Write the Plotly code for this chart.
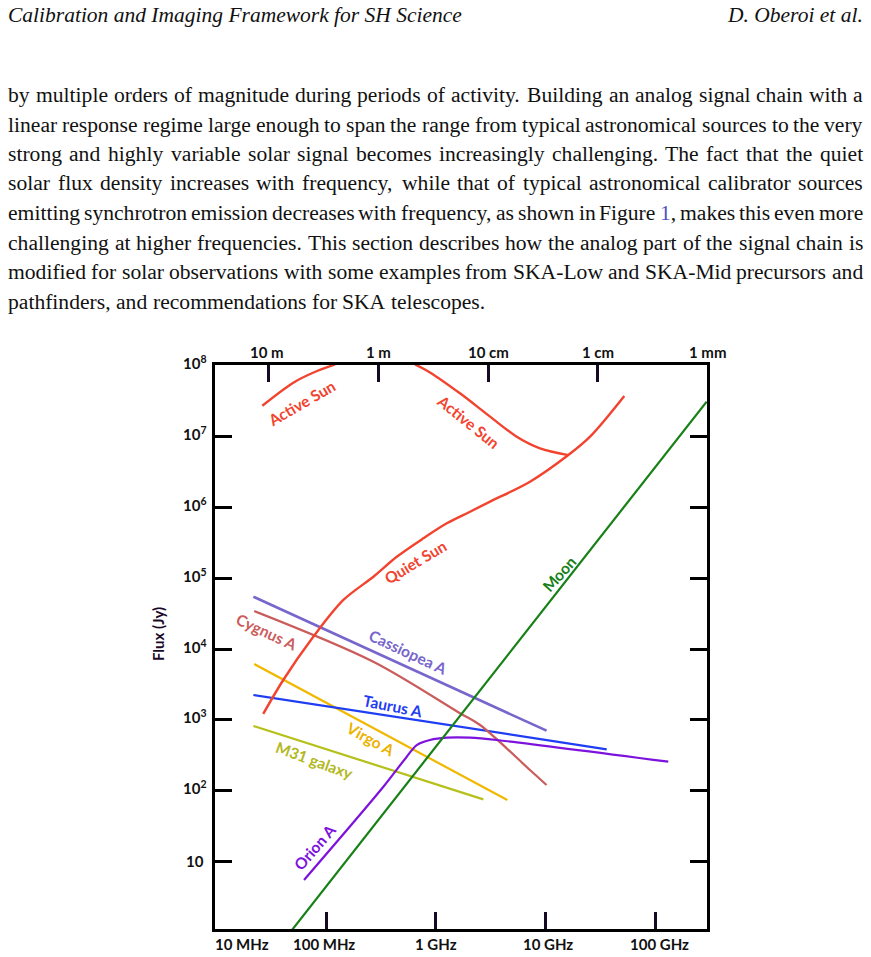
import numpy as np
import plotly.graph_objects as go

# ---------------- data (frequency in Hz, flux density in Jy) ----------------
active_sun_low_freq = [26.3e6, 50.4e6, 79e6, 121e6]
active_sun_low_flux = [2.74e7, 5.8e7, 8.2e7, 1.05e8]

active_sun_high_freq = [647e6, 885e6, 1.66e9, 3.12e9, 5.46e9, 8.9e9, 16.1e9]
active_sun_high_flux = [1.05e8, 8.1e7, 4.1e7, 1.92e7, 1.0e7, 6.85e6, 5.5e6]

quiet_sun_freq = [26.8e6, 40.8e6, 76.6e6, 144e6, 270e6, 441e6, 769e6, 1.26e9,
                  2.05e9, 3.12e9, 7.21e9, 16.1e9, 25.4e9, 52.1e9]
quiet_sun_flux = [1.21e3, 3.65e3, 1.49e4, 4.93e4, 1.05e5, 2.01e5, 3.66e5, 5.97e5,
                  8.71e5, 1.21e6, 2.31e6, 5.5e6, 1.0e7, 3.76e7]

moon_freq = [4.9e7, 2.93e11]
moon_flux = [1.07, 3.13e7]

cas_freq = [21.8e6, 10.2e9]
cas_flux = [5.48e4, 702]

cyg_freq = [22.2e6, 270e6, 1.66e9, 2.53e9, 7.21e9, 10.2e9]
cyg_flux = [3.44e4, 6.62e3, 1.24e3, 844, 195, 120]

tau_freq = [21.8e6, 36.0e9]
tau_flux = [2.24e3, 383]

vir_freq = [22.2e6, 4.48e9]
vir_flux = [6.14e3, 73.5]

m31_freq = [21.8e6, 2.71e9]
m31_flux = [817, 75.2]

ori_freq = [63.1e6, 333e6, 544e6, 670e6, 885e6, 1.26e9, 2.05e9, 3.59e9, 131e9]
ori_flux = [5.45, 113, 301, 440, 518, 558, 558, 518, 256]

# axis ticks
freq_tick_vals = [1e7, 1e8, 1e9, 1e10, 1e11]
freq_tick_text = ["10 MHz", "100 MHz", "1 GHz", "10 GHz", "100 GHz"]
wave_tick_text = ["10 m", "1 m", "10 cm", "1 cm", "1 mm"]
wave_tick_m = [10.0, 1.0, 0.1, 0.01, 0.001]
flux_tick_vals = [10, 1e2, 1e3, 1e4, 1e5, 1e6, 1e7, 1e8]
flux_tick_text = ["10", "10<sup>2</sup>", "10<sup>3</sup>", "10<sup>4</sup>",
                  "10<sup>5</sup>", "10<sup>6</sup>", "10<sup>7</sup>", "10<sup>8</sup>"]

# series labels
label_text = ["Active Sun", "Active Sun", "Quiet Sun", "Moon", "Cygnus A", "Cassiopea A",
              "Taurus A", "Virgo A", "M31 galaxy", "Orion A"]
label_freq = [60e6, 2.0e9, 650e6, 13.3e9, 29e6, 560e6, 410e6, 255e6, 77.8e6, 79.4e6]
label_flux = [3.0e7, 1.63e7, 1.7e5, 1.14e5, 1.72e4, 9.0e3, 1.58e3, 535, 270, 15.8]
label_angle = [-30, 39, -31, -48, 25, 25, 11, 29, 20, -49]

# page text
header_left = "Calibration and Imaging Framework for SH Science"
header_right = "D. Oberoi et al."
body_lines = [
    "by multiple orders of magnitude during periods of activity. Building an analog signal chain with a",
    "linear response regime large enough to span the range from typical astronomical sources to the very",
    "strong and highly variable solar signal becomes increasingly challenging. The fact that the quiet",
    "solar flux density increases with frequency, while that of typical astronomical calibrator sources",
    "emitting synchrotron emission decreases with frequency, as shown in Figure 1, makes this even more",
    "challenging at higher frequencies. This section describes how the analog part of the signal chain is",
    "modified for solar observations with some examples from SKA-Low and SKA-Mid precursors and",
    "pathfinders, and recommendations for SKA telescopes.",
]
figure_ref_word = "1,"

# ---------------- styling ----------------
RED = "#f2432f"
C_MOON = "#178017"
C_CAS = "#7866cc"
C_CYG = "#cb5c5c"
C_TAU = "#1f3df2"
C_VIR = "#f0b800"
C_M31 = "#b6c01a"
C_ORI = "#7d12dd"
label_color = [RED, RED, RED, C_MOON, C_CYG, C_CAS, C_TAU, "#ebb200", "#b2b81e", C_ORI]

W, H = 871, 957
L, R, T, B = 215, 164, 365, 28
PW, PH = W - L - R, H - T - B
XR = [6.989, 11.470]
YR = [0.044, 8.013]


def px_x(px):
    return (px - L) / PW


def px_y(py):
    return (T + PH - py) / PH


fig = go.Figure()


def add_line(f, s, color, width=2.2, shape="linear", xaxis="x"):
    fig.add_trace(go.Scatter(x=f, y=s, mode="lines", xaxis=xaxis,
                             line=dict(color=color, width=width, shape=shape, smoothing=0.9),
                             hoverinfo="skip", showlegend=False))


add_line(m31_freq, m31_flux, C_M31)
add_line(vir_freq, vir_flux, C_VIR)
add_line(tau_freq, tau_flux, C_TAU)
add_line(cyg_freq, cyg_flux, C_CYG, shape="spline")
add_line(cas_freq, cas_flux, C_CAS, width=2.6)
add_line(ori_freq, ori_flux, C_ORI, shape="spline")
add_line(moon_freq, moon_flux, C_MOON, xaxis="x2")
add_line(quiet_sun_freq, quiet_sun_flux, RED, width=2.4, shape="spline")
add_line(active_sun_low_freq, active_sun_low_flux, RED, width=2.4, shape="spline")
add_line(active_sun_high_freq, active_sun_high_flux, RED, width=2.4, shape="spline")

TICKC = "#150a25"
ann = []
chart_font = "Lato, 'Open Sans', sans-serif"
TXT = "#111"

# series labels
for t, f, s, a, c in zip(label_text, label_freq, label_flux, label_angle, label_color):
    ann.append(dict(x=np.log10(f), y=np.log10(s), xref="x", yref="y", text=t,
                    textangle=a, showarrow=False,
                    font=dict(family=chart_font, size=15.5, color=c, weight="bold")))

# bottom tick labels
bshift = [-3, -2, 0, 2, 4]
for v, t, sh in zip(freq_tick_vals, freq_tick_text, bshift):
    ann.append(dict(x=np.log10(v), y=0, xref="x", yref="paper", text=t, showarrow=False,
                    xanchor="left" if v == freq_tick_vals[0] else "center",
                    yanchor="middle", xshift=sh, yshift=-15,
                    font=dict(family=chart_font, size=15, color=TXT, weight="bold")))

# top (wavelength) labels
c_light = 2.998e8
for lam, t in zip(wave_tick_m, wave_tick_text):
    lf = np.log10(c_light / lam)
    inside = lf <= XR[1]
    ann.append(dict(x=lf if inside else 1, y=1, xref="x" if inside else "paper", yref="paper",
                    text=t, showarrow=False, xanchor="center", yanchor="middle", yshift=13,
                    xshift=-2 if lam == 10.0 else 0,
                    font=dict(family=chart_font, size=15, color=TXT, weight="bold")))

# y tick labels
for v, t in zip(flux_tick_vals, flux_tick_text):
    ann.append(dict(x=0, y=np.log10(v), xref="paper", yref="y", text=t, showarrow=False,
                    xanchor="center", yanchor="middle", xshift=-20, yshift=3 if v > 10 else 0,
                    font=dict(family=chart_font, size=15, color=TXT, weight="bold")))

# y axis title
ann.append(dict(x=0, y=px_y(634), xref="paper", yref="paper", text="Flux (Jy)",
                textangle=-90, showarrow=False, xanchor="center", yanchor="middle",
                xshift=-57,
                font=dict(family=chart_font, size=15, color="#1a0a2a", weight="bold")))

# ---------------- page header and justified body text ----------------
serif = "'Liberation Serif', 'Times New Roman', serif"
BODY_SIZE = 21.6
# Times advance widths (per 1000 em) for estimating word widths
_w = {' ': 250, ',': 250, '.': 250, '-': 333, '1': 500}
_w.update(dict(zip("abcdefghijklmnopqrstuvwxyz",
                   [444, 500, 444, 500, 444, 333, 500, 500, 278, 278, 500, 278, 778,
                    500, 500, 500, 500, 333, 389, 278, 500, 500, 722, 500, 500, 444])))
_w.update(dict(zip("ABCDEFGHIJKLMNOPQRSTUVWXYZ",
                   [722, 667, 667, 722, 611, 556, 722, 722, 333, 389, 722, 611, 889,
                    722, 722, 556, 722, 667, 556, 611, 722, 722, 944, 722, 722, 611])))


def word_width(wd, size):
    return sum(_w.get(ch, 500) for ch in wd) * size / 1000.0


ann.append(dict(x=px_x(8), y=px_y(14.5), xref="paper", yref="paper", text=header_left,
                showarrow=False, xanchor="left", yanchor="middle", xshift=-2,
                font=dict(family=serif, size=21.5, color=TXT, style="italic")))
ann.append(dict(x=px_x(863), y=px_y(14.5), xref="paper", yref="paper", text=header_right,
                showarrow=False, xanchor="right", yanchor="middle", xshift=2,
                font=dict(family=serif, size=21.5, color=TXT, style="italic")))

LEFT, RIGHT = 8, 863
for i, line in enumerate(body_lines):
    cy = 95 + 29.5 * i
    words = line.split()
    widths = [word_width(wd, BODY_SIZE) for wd in words]
    last = i == len(body_lines) - 1
    if last:
        gap = 0.25 * BODY_SIZE
    else:
        gap = (RIGHT - LEFT - sum(widths)) / (len(words) - 1)
    xpos = LEFT
    for j, (wd, ww) in enumerate(zip(words, widths)):
        txt = wd
        if wd == figure_ref_word:
            txt = "<span style='color:#5050c0'>1</span>,"
        if not last and j == len(words) - 1:
            ann.append(dict(x=px_x(RIGHT), y=px_y(cy), xref="paper", yref="paper", text=txt,
                            showarrow=False, xanchor="right", yanchor="middle", xshift=2,
                            font=dict(family=serif, size=BODY_SIZE, color=TXT)))
        else:
            ann.append(dict(x=px_x(xpos), y=px_y(cy), xref="paper", yref="paper", text=txt,
                            showarrow=False, xanchor="left", yanchor="middle", xshift=-2,
                            font=dict(family=serif, size=BODY_SIZE, color=TXT)))
        xpos += ww + gap

axis_common = dict(type="log", showgrid=False, zeroline=False, showticklabels=False,
                   ticks="inside", ticklen=17, tickwidth=3, tickcolor=TICKC)

fig.update_layout(
    width=W, height=H, margin=dict(l=L, r=R, t=T, b=B),
    paper_bgcolor="white", plot_bgcolor="white",
    showlegend=False,
    xaxis=dict(**axis_common, range=XR, tickvals=freq_tick_vals[1:],
               showline=True, linewidth=3, linecolor="black", mirror=True),
    xaxis2=dict(**axis_common, range=XR, overlaying="x", side="top", anchor="y",
                tickvals=[c_light / l for l in wave_tick_m[:-1]], showline=False),
    yaxis=dict(type="log", range=YR, showgrid=False, zeroline=False, showticklabels=False,
               ticks="inside", ticklen=17, tickwidth=3, tickcolor="black",
               tickvals=flux_tick_vals[:-1],
               showline=True, linewidth=3, linecolor="black", mirror="ticks"),
    annotations=ann,
)

fig.write_html("out.html")
